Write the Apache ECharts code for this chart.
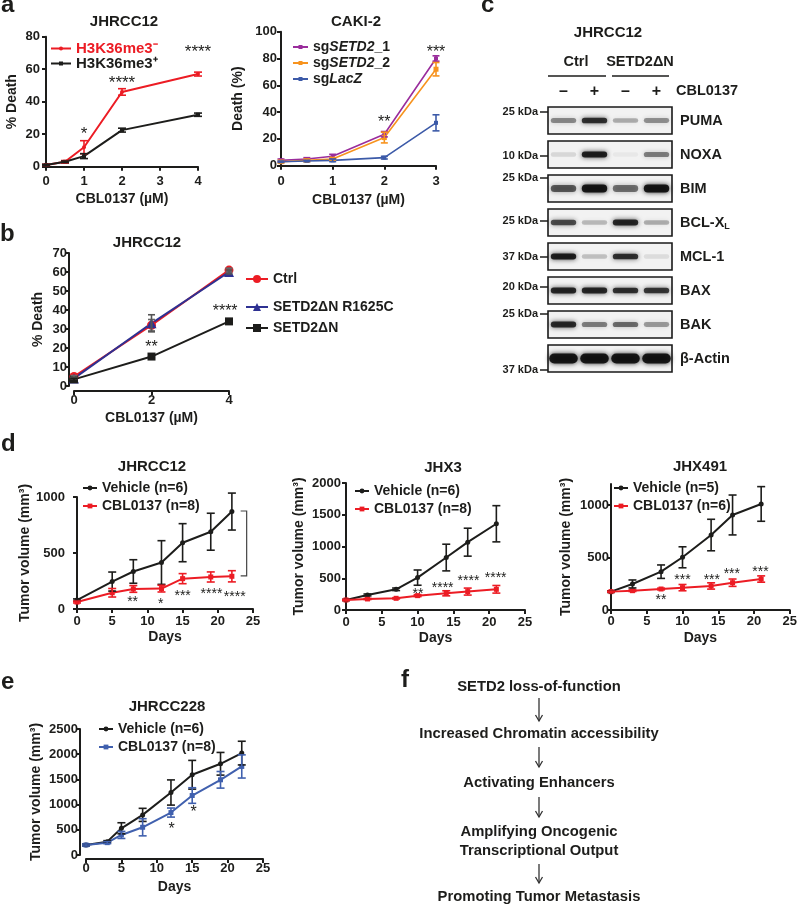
<!DOCTYPE html>
<html><head><meta charset="utf-8">
<script src="https://cdn.jsdelivr.net/npm/echarts@6/dist/echarts.min.js"></script>
<style>html,body{margin:0;padding:0;background:#fff}#c{width:800px;height:906px}</style>
</head><body><div id="c"></div>
<script>
// ================= DATA =================
// Panel a (left) JHRCC12
const aDose = [0, 0.5, 1, 2, 4];
const aNeg = [1, 3, 12, 46, 57];
const aNegErr = [0.5, 0.8, 4, 2, 1.2];
const aPos = [1, 3, 6.5, 22.5, 32];
const aPosErr = [0.5, 0.5, 1.5, 1.2, 1];
const aStars = [[1, 23, '*'], [2, 54, '****'], [4, 73, '****']];
// Panel a (right) CAKI-2
const cakiDose = [0, 0.5, 1, 2, 3];
const cakiSg1 = [4, 5, 7, 23.5, 80];
const cakiSg1Err = [1, 1, 1.5, 2, 2];
const cakiSg2 = [3, 4, 5, 21, 72];
const cakiSg2Err = [1, 1, 1, 4, 5];
const cakiLacZ = [3, 3.5, 4, 6, 32];
const cakiLacZErr = [0.5, 0.5, 1, 1, 6];
const cakiStars = [[2, 35.5, '**'], [3, 88, '***']];
// Panel b
const bDose = [0, 2, 4];
const bCtrl = [5, 32, 61];
const bCtrlErr = [0.5, 3, 1];
const bR1625C = [4, 33, 60];
const bR1625CErr = [0.5, 4.5, 1];
const bDN = [3.5, 15.5, 34];
const bDNErr = [0.5, 0.8, 0.8];
const bStars = [[2, 22.5, '**'], [3.9, 41.5, '****']];
// Panel c (western blot, relative band intensity 0..1)
const blotLanes = ['–', '+', '–', '+'];
const blotProteins = ['PUMA', 'NOXA', 'BIM', 'BCL-XL', 'MCL-1', 'BAX', 'BAK', 'β-Actin'];
const blotKDa = ['25 kDa', '10 kDa', '25 kDa', '25 kDa', '37 kDa', '20 kDa', '25 kDa', '37 kDa'];
const blotIntensity = [
  [0.45, 0.85, 0.30, 0.42],
  [0.12, 0.95, 0.04, 0.50],
  [0.65, 1.00, 0.55, 1.00],
  [0.72, 0.25, 0.90, 0.30],
  [0.95, 0.22, 0.85, 0.10],
  [0.90, 0.90, 0.85, 0.82],
  [0.88, 0.50, 0.58, 0.38],
  [1.00, 1.00, 1.00, 1.00]
];
// Panel d JHRCC12
const d1Days = [0, 5, 8, 12, 15, 19, 22];
const d1Veh = [80, 245, 335, 415, 592, 690, 870];
const d1VehErr = [10, 85, 105, 195, 170, 165, 165];
const d1Cbl = [62, 145, 179, 182, 271, 286, 292];
const d1CblErr = [8, 38, 30, 30, 45, 45, 50];
const d1Stars = [[7.9, 98, '**'], [11.9, 80, '*'], [15.0, 149, '***'], [19.1, 170, '****'], [22.4, 140, '****']];
const d1Bracket = [[24.1, 875, 295]];
// Panel d JHX3
const d2Days = [0, 3, 7, 10, 14, 17, 21];
const d2Veh = [158, 237, 326, 510, 826, 1068, 1358];
const d2VehErr = [10, 15, 20, 120, 210, 220, 285];
const d2Cbl = [158, 174, 184, 226, 263, 290, 326];
const d2CblErr = [10, 10, 10, 15, 40, 55, 60];
const d2Stars = [[10.05, 315, '**'], [13.5, 409, '****'], [17.1, 509, '****'], [20.9, 567, '****']];
// Panel d JHX491
const d3Days = [0, 3, 7, 10, 14, 17, 21];
const d3Veh = [175, 248, 365, 502, 714, 905, 1010];
const d3VehErr = [8, 38, 64, 100, 150, 190, 165];
const d3Cbl = [175, 184, 200, 213, 229, 260, 295];
const d3CblErr = [5, 8, 8, 30, 30, 35, 30];
const d3Stars = [[7.0, 127, '**'], [10.0, 317, '***'], [14.1, 317, '***'], [16.9, 381, '***'], [20.9, 397, '***']];
// Panel e JHRCC228
const eDays = [0, 3, 5, 8, 12, 15, 19, 22];
const eVeh = [199, 265, 530, 796, 1240, 1592, 1810, 2022];
const eVehErr = [20, 20, 110, 130, 250, 285, 225, 235];
const eCbl = [199, 245, 398, 550, 842, 1180, 1492, 1757];
const eCblErr = [20, 20, 70, 170, 90, 155, 165, 230];
const eStars = [[12.1, 596, '*'], [15.2, 928, '*']];
// Panel f
const flowSteps = ['SETD2 loss-of-function', 'Increased Chromatin accessibility', 'Activating Enhancers', 'Amplifying Oncogenic\nTranscriptional Output', 'Promoting Tumor Metastasis'];

// ================= STYLE / LAYOUT =================
const FONT = '"Liberation Sans", Arial, Helvetica, sans-serif';
const INK = '#1d1d1b';
const RED = '#ec1c24', PURPLE = '#9a2d9c', ORANGE = '#f7931e', BLUE_L = '#3c5aa8', NAVY = '#2e3192', BLUE_E = '#4060ae';

const grids = [
  {left: 46, top: 36.7, width: 152, height: 130},   // a left
  {left: 281, top: 31.7, width: 155, height: 134},  // a right
  {left: 74, top: 253, width: 155, height: 133},    // b
  {left: 548, top: 103.5, width: 124, height: 272}, // c blot
  {left: 77, top: 497, width: 176, height: 112},    // d1
  {left: 346, top: 483, width: 179, height: 127},   // d2
  {left: 611, top: 484, width: 181, height: 126},   // d3
  {left: 86, top: 729, width: 177, height: 126}     // e
];

const nameStyle = {fontFamily: FONT, fontWeight: 'bold', fontSize: 14, color: INK};
const plain = v => String(v);
function xAx(gi, min, max, interval, name, gap, margin, offset) {
  return {type: 'value', gridIndex: gi, min, max, interval, name, nameLocation: 'middle', nameGap: gap,
    nameTextStyle: nameStyle, offset: offset || 0,
    axisLine: {show: true, onZero: false, lineStyle: {color: INK, width: 2}},
    axisTick: {show: true, length: 4, lineStyle: {color: INK, width: 2}},
    axisLabel: {fontFamily: FONT, fontWeight: 'bold', fontSize: 13, color: INK, margin, formatter: plain},
    splitLine: {show: false}};
}
function yAx(gi, min, max, interval, name, gap, margin, offset, custom) {
  const ax = {type: 'value', gridIndex: gi, min, max, interval, name, nameLocation: 'middle', nameGap: gap, nameRotate: 90,
    nameTextStyle: nameStyle, offset: offset || 0,
    axisLine: {show: true, onZero: false, lineStyle: {color: INK, width: 2}},
    axisTick: {show: true, length: 4, lineStyle: {color: INK, width: 2}},
    axisLabel: {fontFamily: FONT, fontWeight: 'bold', fontSize: 13, color: INK, margin, formatter: plain},
    splitLine: {show: false}};
  if (custom) { ax.axisLabel.customValues = custom; ax.axisTick.customValues = custom; }
  return ax;
}
const DOSE = 'CBL0137 (µM)';
const TV = 'Tumor volume (mm³)';
const xAxes = [
  xAx(0, 0, 4, 1, DOSE, 25, 8),
  xAx(1, 0, 3, 1, DOSE, 27, 9),
  xAx(2, 0, 4, 2, DOSE, 20, 3, 5),
  {type: 'category', gridIndex: 3, data: blotLanes, position: 'top', axisLine: {show: false}, axisTick: {show: false},
    axisLabel: {fontFamily: FONT, fontWeight: 'bold', fontSize: 16, color: INK, margin: 4}, splitLine: {show: false}},
  xAx(4, 0, 25, 5, 'Days', 21, 6),
  xAx(5, 0, 25, 5, 'Days', 21, 6),
  xAx(6, 0, 25, 5, 'Days', 21, 5),
  xAx(7, 0, 25, 5, 'Days', 21, 3, 4)
];
const yAxes = [
  yAx(0, 0, 80, 20, '% Death', 27, 6),
  yAx(1, 0, 100, 20, 'Death (%)', 36, 4),
  yAx(2, 0, 70, 10, '% Death', 24, 2, 5),
  {type: 'category', gridIndex: 3, data: blotProteins, inverse: true, show: false},
  yAx(4, 0, 1000, 500, TV, 38, 12),
  yAx(5, 0, 2000, 500, TV, 40, 5),
  yAx(6, 0, 1200, 500, TV, 38, 2, 0, [0, 500, 1000]),
  yAx(7, 0, 2500, 500, TV, 37, 2, 6)
];

const series = [];
function addLine(id, gi, xs, ys, color, symbol, size, width) {
  series.push({type: 'line', name: id, xAxisIndex: gi, yAxisIndex: gi,
    data: xs.map((x, i) => [x, ys[i]]), symbol, symbolSize: size, showSymbol: true,
    lineStyle: {color, width: width || 2}, itemStyle: {color}, emphasis: {disabled: true},
    animation: false, z: 3});
}
function addErr(gi, xs, ys, es, color, cap) {
  series.push({type: 'custom', xAxisIndex: gi, yAxisIndex: gi, silent: true, animation: false, z: 4,
    data: xs.map((x, i) => [x, ys[i] - es[i], ys[i] + es[i]]), encode: {x: 0, y: [1, 2]},
    renderItem: (params, api) => {
      const x = api.value(0);
      const p1 = api.coord([x, api.value(1)]), p2 = api.coord([x, api.value(2)]);
      const w = cap / 2, st = {stroke: color, lineWidth: 1.6};
      return {type: 'group', children: [
        {type: 'line', shape: {x1: p1[0], y1: p1[1], x2: p2[0], y2: p2[1]}, style: st},
        {type: 'line', shape: {x1: p1[0] - w, y1: p1[1], x2: p1[0] + w, y2: p1[1]}, style: st},
        {type: 'line', shape: {x1: p2[0] - w, y1: p2[1], x2: p2[0] + w, y2: p2[1]}, style: st}
      ]};
    }});
}
function addStars(gi, stars, size) {
  series.push({type: 'custom', xAxisIndex: gi, yAxisIndex: gi, silent: true, animation: false, z: 5,
    data: stars.map(s => [s[0], s[1]]), encode: {x: 0, y: 1},
    renderItem: (params, api) => {
      const p = api.coord([api.value(0), api.value(1)]);
      return {type: 'text', x: p[0], y: p[1] + size * 0.27,
        style: {text: stars[params.dataIndex][2], fill: INK, font: `${size}px ${FONT}`, align: 'center', verticalAlign: 'middle'}};
    }});
}

// a left
addLine('aNeg', 0, aDose, aNeg, RED, 'circle', 4);
addLine('aPos', 0, aDose, aPos, INK, 'rect', 4);
addErr(0, aDose, aNeg, aNegErr, RED, 8);
addErr(0, aDose, aPos, aPosErr, INK, 8);
addStars(0, aStars, 17);
// a right
addLine('sg1', 1, cakiDose, cakiSg1, PURPLE, 'rect', 4, 1.6);
addLine('sg2', 1, cakiDose, cakiSg2, ORANGE, 'rect', 5, 1.6);
addLine('lacz', 1, cakiDose, cakiLacZ, BLUE_L, 'rect', 4, 1.6);
addErr(1, cakiDose, cakiSg1, cakiSg1Err, PURPLE, 7);
addErr(1, cakiDose, cakiSg2, cakiSg2Err, ORANGE, 7);
addErr(1, cakiDose, cakiLacZ, cakiLacZErr, BLUE_L, 7);
addStars(1, cakiStars, 16);
// b
addLine('bCtrl', 2, bDose, bCtrl, RED, 'circle', 9);
addLine('bR', 2, bDose, bR1625C, NAVY, 'triangle', 10);
addLine('bDN', 2, bDose, bDN, INK, 'rect', 8);
addErr(2, bDose, bCtrl, bCtrlErr, '#666', 7);
addErr(2, bDose, bR1625C, bR1625CErr, '#555', 7);
addErr(2, bDose, bDN, bDNErr, INK, 7);
addStars(2, bStars, 16);
// c blot: boxes + labels
const kdaOff = [-8.5, 1.5, -10.5, -1.5, 0.5, -3.5, -10.5, 11.5];
const bandH = [6, 6, 8, 6, 6, 6, 6, 10];
series.push({type: 'custom', xAxisIndex: 3, yAxisIndex: 3, silent: true, animation: false, z: 1,
  data: blotProteins.map((p, i) => [0, i]),
  renderItem: (params, api) => {
    const i = params.dataIndex;
    const c = api.coord([0, i]);
    const sz = api.size([1, 1]);
    const left = c[0] - sz[0] / 2, w = sz[0] * 4, h = 27, top = c[1] - h / 2;
    const lblFont = `bold 14.5px ${FONT}`;
    const label = blotProteins[i] === 'BCL-XL'
      ? {type: 'text', x: left + w + 8, y: c[1], style: {text: '{a|BCL-X}{s|L}', align: 'left', verticalAlign: 'middle',
          rich: {a: {font: lblFont, fill: INK}, s: {font: `bold 9px ${FONT}`, fill: INK, padding: [9, 0, 0, 0]}}}}
      : {type: 'text', x: left + w + 8, y: c[1], style: {text: blotProteins[i], font: lblFont, fill: INK, align: 'left', verticalAlign: 'middle'}};
    const ky = c[1] + kdaOff[i];
    return {type: 'group', children: [
      {type: 'rect', shape: {x: left, y: top, width: w, height: h}, style: {fill: '#f2f2f2', stroke: '#1a1a1a', lineWidth: 1.6}},
      label,
      {type: 'text', x: left - 10, y: ky, style: {text: blotKDa[i], font: `bold 11px ${FONT}`, fill: INK, align: 'right', verticalAlign: 'middle'}},
      {type: 'line', shape: {x1: left - 8, y1: ky, x2: left, y2: ky}, style: {stroke: INK, lineWidth: 1.5}}
    ]};
  }});
const bandData = [];
blotIntensity.forEach((row, pi) => row.forEach((v, li) => bandData.push([li, pi, v])));
series.push({type: 'custom', xAxisIndex: 3, yAxisIndex: 3, silent: true, animation: false, z: 2,
  data: bandData,
  renderItem: (params, api) => {
    const li = api.value(0), pi = api.value(1), a = api.value(2);
    const c = api.coord([li, pi]);
    const sz = api.size([1, 1]);
    const h = bandH[pi] * (0.7 + 0.3 * a), w = sz[0] * (pi === 7 ? 0.92 : 0.82);
    const col = `rgba(12,12,12,${Math.min(1, a * 0.92).toFixed(2)})`;
    return {type: 'rect', shape: {x: c[0] - w / 2, y: c[1] - h / 2, width: w, height: h, r: h / 2},
      style: {fill: col, shadowBlur: 5, shadowColor: col}};
  }});
// d1
addLine('d1v', 4, d1Days, d1Veh, INK, 'circle', 5);
addLine('d1c', 4, d1Days, d1Cbl, RED, 'rect', 5);
addErr(4, d1Days, d1Veh, d1VehErr, INK, 8);
addErr(4, d1Days, d1Cbl, d1CblErr, RED, 8);
addStars(4, d1Stars, 14);
series.push({type: 'custom', xAxisIndex: 4, yAxisIndex: 4, silent: true, animation: false, z: 4,
  data: d1Bracket, encode: {x: 0, y: [1, 2]},
  renderItem: (params, api) => {
    const x = api.value(0);
    const p1 = api.coord([x, api.value(1)]), p2 = api.coord([x, api.value(2)]);
    return {type: 'polyline', shape: {points: [[p1[0] - 6, p1[1]], p1, p2, [p2[0] - 6, p2[1]]]},
      style: {stroke: '#444', lineWidth: 1.2, fill: null}};
  }});
// d2
addLine('d2v', 5, d2Days, d2Veh, INK, 'circle', 5);
addLine('d2c', 5, d2Days, d2Cbl, RED, 'rect', 5);
addErr(5, d2Days, d2Veh, d2VehErr, INK, 8);
addErr(5, d2Days, d2Cbl, d2CblErr, RED, 8);
addStars(5, d2Stars, 14);
// d3
addLine('d3v', 6, d3Days, d3Veh, INK, 'circle', 5);
addLine('d3c', 6, d3Days, d3Cbl, RED, 'rect', 5);
addErr(6, d3Days, d3Veh, d3VehErr, INK, 8);
addErr(6, d3Days, d3Cbl, d3CblErr, RED, 8);
addStars(6, d3Stars, 14);
// e
addLine('ev', 7, eDays, eVeh, INK, 'circle', 5);
addLine('ec', 7, eDays, eCbl, BLUE_E, 'rect', 5);
addErr(7, eDays, eVeh, eVehErr, INK, 8);
addErr(7, eDays, eCbl, eCblErr, BLUE_E, 8);
addStars(7, eStars, 16);

// ================= LEGENDS =================
const LABELS = {
  aNeg: 'H3K36me3⁻', aPos: 'H3K36me3⁺',
  sg1: '{n|sg}{i|SETD2}{n|_1}', sg2: '{n|sg}{i|SETD2}{n|_2}', lacz: '{n|sg}{i|LacZ}',
  bCtrl: 'Ctrl', bR: 'SETD2ΔN R1625C', bDN: 'SETD2ΔN',
  d1v: 'Vehicle (n=6)', d1c: 'CBL0137 (n=8)', d2v: 'Vehicle (n=6)', d2c: 'CBL0137 (n=8)',
  d3v: 'Vehicle (n=5)', d3c: 'CBL0137 (n=6)', ev: 'Vehicle (n=6)', ec: 'CBL0137 (n=8)'
};
const RICH = {
  n: {fontFamily: FONT, fontWeight: 'bold', fontSize: 14, color: INK},
  i: {fontFamily: FONT, fontWeight: 'bold', fontStyle: 'italic', fontSize: 14, color: INK}
};
function leg(data, left, top, itemWidth, itemHeight, itemGap, fontSize) {
  return {orient: 'vertical', padding: 0, selectedMode: false, left, top, itemWidth, itemHeight, itemGap,
    data, formatter: n => LABELS[n],
    textStyle: {fontFamily: FONT, fontWeight: 'bold', fontSize: fontSize || 14, color: INK, rich: RICH}};
}
const legends = [
  leg([{name: 'aNeg', textStyle: {color: RED}}, 'aPos'], 50, 41, 20, 5, 0, 15),
  leg(['sg1', 'sg2', 'lacz'], 292, 40, 15, 5, 2),
  leg(['bCtrl'], 245, 272, 22, 10, 0),
  leg(['bR'], 245, 300, 22, 10, 0),
  leg(['bDN'], 245, 321, 22, 10, 0),
  leg(['d1v', 'd1c'], 82, 481, 14, 6, 4),
  leg(['d2v', 'd2c'], 354, 484, 14, 6, 4),
  leg(['d3v', 'd3c'], 613, 481, 14, 6, 4),
  leg(['ev', 'ec'], 98, 722, 14, 6, 4)
];

// ================= TEXT ANNOTATIONS =================
const gfx = [];
function T(x, y, text, size, opts) {
  gfx.push({type: 'text', x, y, silent: true,
    style: Object.assign({text, fill: INK, font: `bold ${size}px ${FONT}`, align: 'center', verticalAlign: 'middle'}, opts || {})});
}
function L(x1, y1, x2, y2, w, color) {
  gfx.push({type: 'line', silent: true, shape: {x1, y1, x2, y2}, style: {stroke: color || INK, lineWidth: w}});
}
function arrow(x, y1, y2) {
  L(x, y1, x, y2, 1.3, '#333');
  gfx.push({type: 'polyline', silent: true, shape: {points: [[x - 3.5, y2 - 6], [x, y2], [x + 3.5, y2 - 6]]},
    style: {stroke: '#333', lineWidth: 1.3, fill: null}});
}
// panel letters
const letterOpts = {align: 'left'};
T(1, 5, 'a', 24, letterOpts);
T(0, 234, 'b', 24, letterOpts);
T(481, 5, 'c', 24, letterOpts);
T(1, 444, 'd', 24, letterOpts);
T(1, 682, 'e', 24, letterOpts);
T(401, 680, 'f', 24, letterOpts);
// titles
T(124, 22, 'JHRCC12', 15);
T(356, 22, 'CAKI-2', 15);
T(147, 243, 'JHRCC12', 15);
T(608, 33, 'JHRCC12', 15);
T(152, 467, 'JHRCC12', 15);
T(443, 468, 'JHX3', 15);
T(700, 467, 'JHX491', 15);
T(167, 707, 'JHRCC228', 15);
// blot header
T(576, 62, 'Ctrl', 14.5);
T(640, 62, 'SETD2ΔN', 14.5);
L(548, 76, 606, 76, 1.5);
L(612, 76, 669, 76, 1.5);
T(676, 91, 'CBL0137', 14.5, {align: 'left'});
// panel f flow
const fx = 539;
const FS = 14.8;
T(fx, 687, flowSteps[0], FS);
arrow(fx, 698, 721);
T(fx, 734, flowSteps[1], FS);
arrow(fx, 747, 767);
T(fx, 783, flowSteps[2], FS);
arrow(fx, 797, 817);
T(fx, 841.5, flowSteps[3], FS, {lineHeight: 19});
arrow(fx, 864, 883);
T(fx, 897, flowSteps[4], FS);

const chart = echarts.init(document.getElementById('c'), null, {renderer: 'canvas', width: 800, height: 906});
chart.setOption({
  animation: false,
  backgroundColor: '#ffffff',
  textStyle: {fontFamily: FONT},
  grid: grids,
  xAxis: xAxes,
  yAxis: yAxes,
  legend: legends,
  series,
  graphic: gfx
});
</script>
</body></html>
